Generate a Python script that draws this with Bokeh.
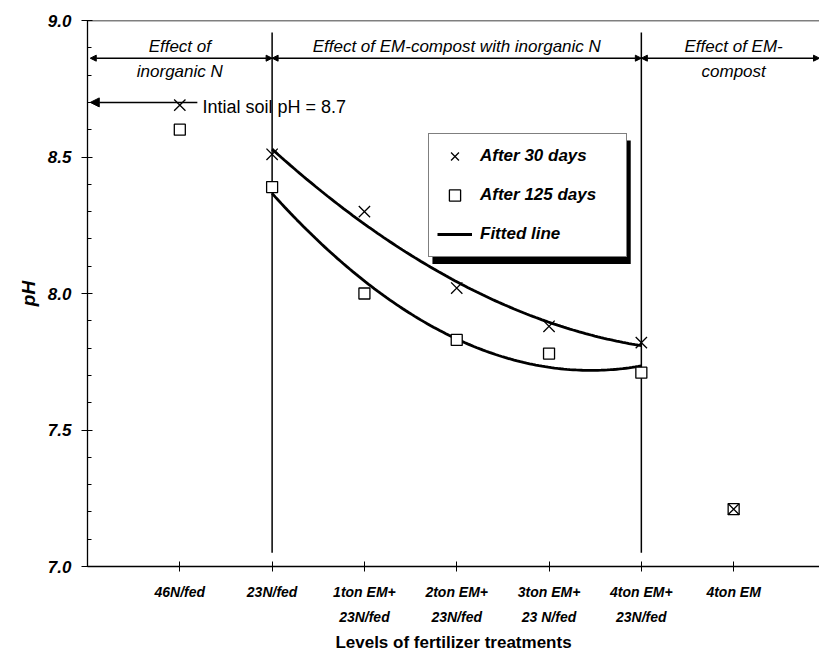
import numpy as np
from bokeh.plotting import figure
from bokeh.models import (Range1d, FixedTicker, SingleIntervalTicker, PrintfTickFormatter,
                          Span, Arrow, NormalHead, Label, Legend, LegendItem, BoxAnnotation)
from bokeh.embed import file_html
from bokeh.resources import INLINE

# ---- data ----
categories = ["46N/fed", "23N/fed", "1ton EM+\n23N/fed", "2ton EM+\n23N/fed",
              "3ton EM+\n23 N/fed", "4ton EM+\n23N/fed", "4ton EM"]
positions = [1, 2, 3, 4, 5, 6, 7]
ph_30 = [8.69, 8.51, 8.30, 8.02, 7.88, 7.82, 7.21]
ph_125 = [8.60, 8.39, 8.00, 7.83, 7.78, 7.71, 7.21]
initial_ph = 8.7
fit_idx = [1, 2, 3, 4, 5]          # treatments used for the fitted curves
group_bounds = [2, 6]              # separators between treatment groups
y_ticks_interval = 0.5

FONT = "Liberation Sans"

p = figure(width=819, height=655, output_backend="svg", toolbar_location=None,
           x_range=Range1d(0, 7.93), y_range=Range1d(7.0, 9.0),
           min_border_left=87, min_border_right=0, min_border_top=20, min_border_bottom=89)
p.outline_line_color = None
p.xgrid.visible = False
p.ygrid.visible = False
p.background_fill_color = "white"
p.border_fill_color = "white"

# axes
xa = p.xaxis[0]
xa.ticker = FixedTicker(ticks=positions)
xa.major_label_overrides = {pos: lab for pos, lab in zip(positions, categories)}
xa.major_tick_in = 5
xa.major_tick_out = 5
xa.minor_tick_line_color = None
xa.major_label_standoff = 12
xa.major_label_text_font = FONT
xa.major_label_text_font_style = "bold italic"
xa.major_label_text_font_size = "14px"
xa.major_label_text_line_height = 1.6
xa.major_label_text_color = "black"
xa.axis_label = "Levels of fertilizer treatments"
xa.axis_label_text_font = FONT
xa.axis_label_text_font_style = "bold"
xa.axis_label_text_font_size = "17px"
xa.axis_label_text_color = "black"
xa.axis_label_standoff = 5
xa.axis_line_width = 1.3
xa.axis_line_color = "black"
xa.major_tick_line_color = "black"

ya = p.yaxis[0]
ya.ticker = SingleIntervalTicker(interval=y_ticks_interval, num_minor_ticks=5)
ya.formatter = PrintfTickFormatter(format="%.1f")
ya.major_tick_in = 5
ya.major_tick_out = 6
ya.minor_tick_in = 4
ya.minor_tick_out = 0
ya.major_label_standoff = 10
ya.major_label_text_font = FONT
ya.major_label_text_font_style = "bold italic"
ya.major_label_text_font_size = "17px"
ya.major_label_text_color = "black"
ya.axis_label = "pH"
ya.axis_label_text_font = FONT
ya.axis_label_text_font_style = "bold italic"
ya.axis_label_text_font_size = "19px"
ya.axis_label_text_color = "black"
ya.axis_label_standoff = 6
ya.axis_line_width = 1.3
ya.axis_line_color = "black"
ya.major_tick_line_color = "black"
ya.minor_tick_line_color = "black"

# top border
p.add_layout(Span(location=9.0, dimension="width", line_color="black", line_width=1.3))

# group separators
p.segment(x0=group_bounds, x1=group_bounds, y0=[8.956] * 2, y1=[7.05] * 2,
          line_color="black", line_width=1.5)

# double arrows for groups
arrow_y = 8.862
edges = [0.03, group_bounds[0], group_bounds[1], 7.93]
for a, b in zip(edges[:-1], edges[1:]):
    p.add_layout(Arrow(x_start=a, y_start=arrow_y, x_end=b, y_end=arrow_y,
                       line_color="black", line_width=1.5,
                       start=NormalHead(size=6, fill_color="black", line_color="black"),
                       end=NormalHead(size=6, fill_color="black", line_color="black")))

def lab(x, y, t, align="center", size="17px", style="italic"):
    p.add_layout(Label(x=x, y=y, text=t, text_align=align, text_baseline="middle",
                       text_font=FONT, text_font_size=size, text_font_style=style,
                       text_color="black"))

lab(1, 8.905, "Effect of")
lab(1, 8.815, "inorganic N")
lab(4, 8.905, "Effect of EM-compost with inorganic N")
lab(7, 8.905, "Effect of EM-")
lab(7, 8.815, "compost")

# initial soil pH arrow
p.add_layout(Arrow(x_start=1.19, y_start=initial_ph, x_end=0.03, y_end=initial_ph,
                   line_color="black", line_width=1.5,
                   end=NormalHead(size=9, fill_color="black", line_color="black")))
lab(1.245, 8.683, "Intial soil pH = 8.7", align="left", size="18px", style="normal")

# fitted curves (quadratic fits of the data)
fx = [positions[i] for i in fit_idx]
xs = np.linspace(fx[0], fx[-1], 120)
c30 = np.polyfit(fx, [ph_30[i] for i in fit_idx], 2)
c125 = np.polyfit(fx, [ph_125[i] for i in fit_idx], 2)
l30 = p.line(xs, np.polyval(c30, xs), line_color="black", line_width=2.8)
l125 = p.line(xs, np.polyval(c125, xs), line_color="black", line_width=2.8)

# points
r125 = p.scatter(positions, ph_125, marker="square", size=11, fill_color="white",
                 line_color="black", line_width=1.3)
r30 = p.scatter(positions, ph_30, marker="x", size=16, line_color="black", line_width=1.3)

# legend shadow
p.add_layout(BoxAnnotation(left=3.737, right=5.885, top=8.56, bottom=8.108,
                           fill_color="black", fill_alpha=1.0, line_color=None))

legend = Legend(items=[LegendItem(label="After 30 days", renderers=[r30]),
                       LegendItem(label="After 125 days", renderers=[r125]),
                       LegendItem(label="Fitted line", renderers=[l30])],
                location=(341, 309), orientation="vertical",
                label_text_font=FONT, label_text_font_style="bold italic",
                label_text_font_size="17px", label_text_color="black",
                glyph_width=35, glyph_height=28, label_height=28, label_width=138,
                spacing=11, label_standoff=8, padding=8, margin=0,
                border_line_color="black", border_line_width=1.2,
                background_fill_color="white", background_fill_alpha=1.0)
p.add_layout(legend)

open("out.html", "w").write(file_html(p, INLINE))
